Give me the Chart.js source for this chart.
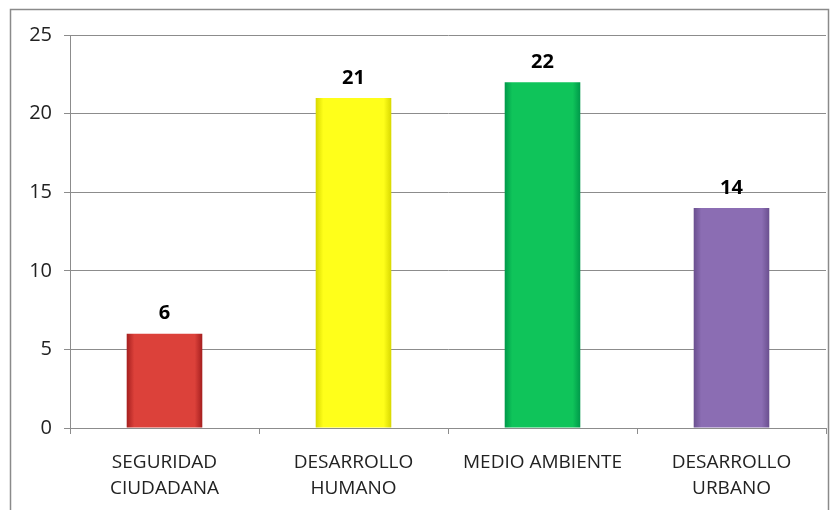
<!DOCTYPE html>
<html>
<head>
<meta charset="utf-8">
<script src="https://cdn.jsdelivr.net/npm/chart.js@4"></script>
<style>
  body { margin: 0; background: #fff; }
</style>
</head>
<body>
<canvas id="myChart" width="838" height="510"></canvas>
<script>
var categories = [["SEGURIDAD", "CIUDADANA"], ["DESARROLLO", "HUMANO"], "MEDIO AMBIENTE", ["DESARROLLO", "URBANO"]];
var values = [6, 21, 22, 14];
var barEdge = ["#a51f1f", "#d8d800", "#00994a", "#6a4f8f"];
var barMid = ["#dc413a", "#ffff1a", "#0fc45a", "#8b6db3"];

// horizontal gradient per bar, darker at the sides
function barFill(ctx) {
  var chart = ctx.chart;
  var i = ctx.dataIndex;
  var xs = chart.scales && chart.scales.x;
  if (!chart.chartArea || !xs) return barMid[i];
  var cx = xs.getPixelForValue(i);
  var w = (chart.chartArea.right - chart.chartArea.left) / values.length * 0.4;
  var g = chart.ctx.createLinearGradient(cx - w / 2, 0, cx + w / 2, 0);
  g.addColorStop(0, barEdge[i]);
  g.addColorStop(0.1, barMid[i]);
  g.addColorStop(0.9, barMid[i]);
  g.addColorStop(1, barEdge[i]);
  return g;
}

var frame = {
  id: "frame",
  beforeDraw: function (chart) {
    var c = chart.ctx;
    c.save();
    c.strokeStyle = "#8a8a8a";
    c.lineWidth = 1.5;
    c.strokeRect(10.5, 9.5, 818, 510);
    c.restore();
  }
};

var valueLabels = {
  id: "valueLabels",
  afterDatasetsDraw: function (chart) {
    var c = chart.ctx;
    var meta = chart.getDatasetMeta(0);
    c.save();
    c.font = "bold 20px 'Open Sans', sans-serif";
    c.fillStyle = "#000";
    c.textAlign = "center";
    c.textBaseline = "bottom";
    meta.data.forEach(function (bar, i) {
      c.fillText(values[i], bar.x, bar.y - 10);
    });
    c.restore();
  }
};

new Chart("myChart", {
  type: "bar",
  data: {
    labels: categories,
    datasets: [{
      data: values,
      backgroundColor: barFill,
      borderWidth: 0,
      barPercentage: 0.8,
      categoryPercentage: 0.5
    }]
  },
  options: {
    responsive: false,
    animation: false,
    layout: { padding: { left: 0, right: 12, top: 35, bottom: 0 } },
    plugins: { legend: { display: false }, tooltip: { enabled: false } },
    scales: {
      y: {
        min: 0,
        max: 25,
        ticks: { stepSize: 5, color: "#222", padding: 12, font: { size: 20, family: "'Open Sans', sans-serif" } },
        grid: { color: "#8c8c8c", tickLength: 6, lineWidth: 1 },
        border: { color: "#8c8c8c" },
        afterFit: function (s) { s.width = 70; }
      },
      x: {
        ticks: { color: "#222", padding: 16, maxRotation: 0, font: { size: 19, family: "'Open Sans', sans-serif", lineHeight: 1.35 } },
        grid: { drawOnChartArea: false, drawTicks: true, tickLength: 6, color: "#8c8c8c", offset: true },
        border: { color: "#8c8c8c" },
        afterFit: function (s) { s.height = 82; }
      }
    }
  },
  plugins: [frame, valueLabels]
});
</script>
</body>
</html>
